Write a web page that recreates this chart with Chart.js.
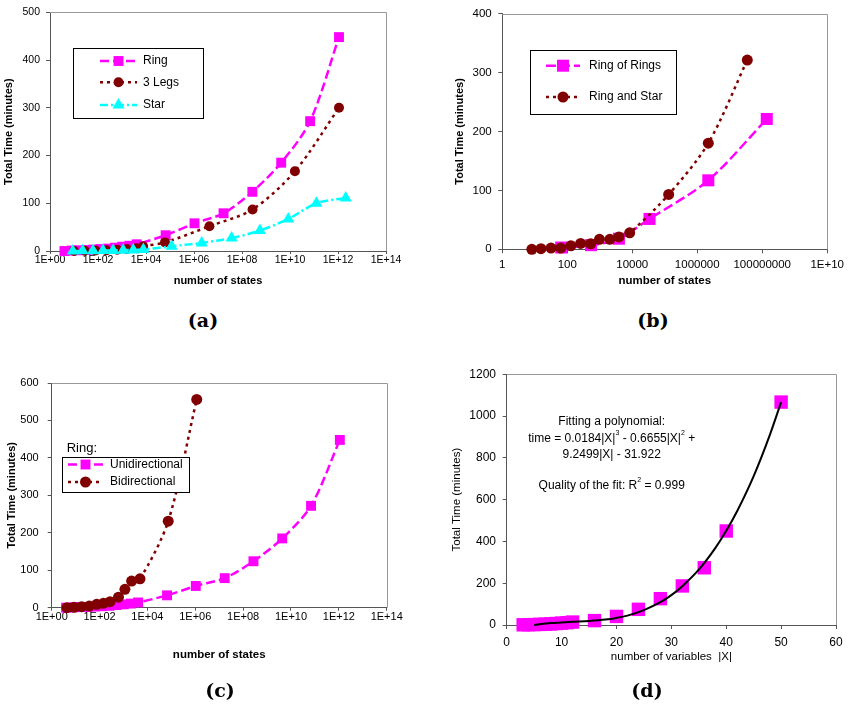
<!DOCTYPE html>
<html>
<head>
<meta charset="utf-8">
<script src="https://cdn.jsdelivr.net/npm/chart.js"></script>
<style>
body { margin: 0; background: #fff; }
#wrap { position: relative; width: 849px; height: 705px; overflow: hidden; }
canvas { position: absolute; }
.cap { position: absolute; font: bold 19px "DejaVu Serif", serif; transform: translate(-50%, -50%); color: #000; }
</style>
</head>
<body>
<div id="wrap">
  <canvas id="chartA" width="420" height="300" style="left:0;top:0"></canvas>
  <canvas id="chartB" width="429" height="300" style="left:420px;top:0"></canvas>
  <canvas id="chartC" width="420" height="340" style="left:0;top:340px"></canvas>
  <canvas id="chartD" width="429" height="340" style="left:420px;top:340px"></canvas>
  <div class="cap" style="left:203px;top:320px">(a)</div>
  <div class="cap" style="left:653px;top:320px">(b)</div>
  <div class="cap" style="left:220px;top:690px">(c)</div>
  <div class="cap" style="left:647px;top:690px">(d)</div>
</div>
<script>
// (a) and (c): ring / 3 legs / star
const ringStates = [4, 8, 16, 32, 64, 128, 256, 512, 1024, 2048, 4096, 6.6e4, 1.05e6, 1.7e7, 2.7e8, 4.3e9, 6.9e10, 1.1e12]
const ringTime   = [0, 1, 1.5, 2, 3, 4, 5, 7, 9, 11, 14, 33, 58, 79, 124, 185, 272, 448]
const legsStates = [10, 28, 79, 224, 631, 1585, 3981, 7600, 6.2e4, 4.4e6, 2.75e8, 1.6e10, 1.1e12]
const legsTime   = [0, 0.5, 1, 1.5, 2.5, 4, 6, 10, 18, 52, 87, 167, 300]
const starStates = [8.9, 23, 62, 162, 427, 1122, 2951, 7762, 1.17e5, 2.1e6, 3.7e7, 5.6e8, 8.5e9, 1.26e11, 2.1e12]
const starTime   = [0, 0.3, 0.6, 1, 1.3, 1.7, 2.2, 3, 10, 17, 27, 43, 67, 100, 111]

// (b): ring of rings / ring and star
const rorStates = [65, 537, 3890, 3.4e4, 2.19e6, 1.38e8]
const rorTime   = [3, 7, 18, 51.5, 117, 221]
const rasStates = [8.1, 15.5, 31.6, 63, 129, 257, 525, 977, 2042, 3890, 8318, 1.32e5, 2.19e6, 3.47e7]
const rasTime   = [0, 1, 2, 2.2, 6, 10, 9.4, 17, 17, 21, 28, 93, 180, 321]

// (c): bidirectional ring (unidirectional reuses ring data)
const biStates = [4.3, 8.5, 17.8, 37, 76, 145, 275, 617, 1148, 2188, 4898, 7.4e4, 1.15e6]
const biTime   = [0, 1, 2.7, 4.5, 9, 11.6, 16, 28, 49, 71, 77, 231, 556]

// (d): time vs number of variables, plus the fitted curve
const varCount = [3, 4, 5, 6, 7, 8, 9, 10, 11, 12, 16, 20, 24, 28, 32, 36, 40, 50]
const varTime  = [1, 1.5, 2, 3, 4, 5, 7, 9, 11, 14, 21, 41, 75, 126, 187, 274, 450, 1067]
const fitX     = [5, 8, 10, 12, 15, 18, 20, 22, 25, 28, 30, 32, 35, 38, 40, 42, 45, 48, 50]
const fitTime  = [0, 9, 12, 15, 19, 26, 34, 45, 71, 109, 143, 186, 265, 368, 451, 546, 713, 914, 1067]

const ticksE14 = [1e0, 1e2, 1e4, 1e6, 1e8, 1e10, 1e12, 1e14]
const ticksE10 = [1e0, 1e2, 1e4, 1e6, 1e8, 1e10]

const FONT = '"Liberation Sans", Arial, sans-serif'
Chart.defaults.font.family = FONT
Chart.defaults.color = '#000'

const MAGENTA = '#FF00FF', DARKRED = '#800000', CYAN = '#00FFFF'

const pts = (xs, ys) => xs.map((x, i) => ({x: x, y: ys[i]}))

function series(label, xs, ys, color, style, r, dash, order) {
  return {
    label: label, data: pts(xs, ys), showLine: true, clip: false, order: order,
    borderColor: color, backgroundColor: color, borderWidth: 2.5, borderDash: dash,
    pointStyle: style, pointRadius: r, pointBackgroundColor: color, pointBorderWidth: 0,
    tension: 0.3
  }
}

function expLabel(v) {
  const e = Math.round(Math.log10(v))
  return '1E+' + String(e).padStart(2, '0')
}
function plainLabel(v) {
  const e = Math.round(Math.log10(v))
  return e >= 10 ? '1E+' + e : String(Math.round(v))
}

// top and right border of the plot area
const frame = {
  id: 'frame',
  beforeDatasetsDraw(chart) {
    const a = chart.chartArea, ctx = chart.ctx
    ctx.save()
    ctx.strokeStyle = '#999'
    ctx.lineWidth = 1
    ctx.beginPath()
    ctx.moveTo(a.left, Math.round(a.top) + 0.5)
    ctx.lineTo(Math.round(a.right) + 0.5, Math.round(a.top) + 0.5)
    ctx.lineTo(Math.round(a.right) + 0.5, a.bottom)
    ctx.stroke()
    ctx.restore()
  }
}

function marker(ctx, style, x, y, r, color) {
  ctx.fillStyle = color
  ctx.beginPath()
  if (style === 'rect') {
    const s = r * Math.SQRT1_2
    ctx.rect(x - s, y - s, 2 * s, 2 * s)
  } else if (style === 'triangle') {
    ctx.moveTo(x, y - r)
    ctx.lineTo(x + r * 0.866, y + r / 2)
    ctx.lineTo(x - r * 0.866, y + r / 2)
    ctx.closePath()
  } else {
    ctx.arc(x, y, r, 0, Math.PI * 2)
  }
  ctx.fill()
}

function boxLegend(o) {
  return {
    id: 'boxLegend',
    afterDraw(chart) {
      const ctx = chart.ctx
      ctx.save()
      ctx.fillStyle = '#fff'
      ctx.fillRect(Math.round(o.x) + 0.5, Math.round(o.y) + 0.5, o.w, o.h)
      ctx.strokeStyle = '#000'
      ctx.lineWidth = 1
      ctx.strokeRect(Math.round(o.x) + 0.5, Math.round(o.y) + 0.5, o.w, o.h)
      ctx.textBaseline = 'middle'
      ctx.textAlign = 'left'
      if (o.title) {
        ctx.fillStyle = '#000'
        ctx.font = '13px ' + FONT
        ctx.fillText(o.title, o.titleX, o.titleY)
      }
      o.rows.forEach((y, i) => {
        const ds = chart.data.datasets[i]
        ctx.strokeStyle = ds.borderColor
        ctx.lineWidth = ds.borderWidth
        ctx.setLineDash(ds.borderDash || [])
        ctx.beginPath()
        ctx.moveTo(o.x1, y)
        ctx.lineTo(o.x2, y)
        ctx.stroke()
        ctx.setLineDash([])
        marker(ctx, ds.pointStyle, (o.x1 + o.x2) / 2, y, ds.pointRadius, ds.borderColor)
        ctx.fillStyle = '#000'
        ctx.font = '12px ' + FONT
        ctx.fillText(ds.label, o.tx, y)
      })
      ctx.restore()
    }
  }
}

function makeChart(id, p) {
  return new Chart(document.getElementById(id), {
    type: 'scatter',
    data: {datasets: p.datasets},
    options: {
      responsive: false, animation: false, events: [], devicePixelRatio: 1,
      layout: {padding: p.pad},
      plugins: {legend: {display: false}, tooltip: {enabled: false}},
      scales: {
        x: {
          type: p.xType, min: p.xMin, max: p.xMax,
          afterFit: s => { s.height = p.xH },
          afterBuildTicks: p.xTicks ? s => { s.ticks = p.xTicks.map(v => ({value: v})) } : undefined,
          ticks: {font: {size: p.tick}, padding: p.xPad, stepSize: p.xStep, callback: p.xFmt || (v => String(v)), maxRotation: 0, autoSkip: false},
          grid: {drawOnChartArea: false, tickLength: p.xTl, color: '#555'},
          border: {color: '#555'},
          title: {display: true, text: p.xTitle, font: {size: p.xTitleSize, weight: p.bold ? 'bold' : 'normal'}, padding: {top: 0, bottom: p.xTitlePad}}
        },
        y: {
          min: 0, max: p.yMax,
          afterFit: s => { s.width = p.yW },
          ticks: {font: {size: p.tick}, padding: p.yPad, stepSize: p.yStep, callback: v => String(v)},
          grid: {drawOnChartArea: false, tickLength: 4, color: '#555'},
          border: {color: '#555'},
          title: {display: true, text: 'Total Time (minutes)', font: {size: p.yTitleSize, weight: p.bold ? 'bold' : 'normal'}, padding: {top: p.yTitlePad, bottom: 0}}
        }
      }
    },
    plugins: [frame].concat(p.extra || [])
  })
}

// (a)
makeChart('chartA', {
  datasets: [
    series('Ring', ringStates, ringTime, MAGENTA, 'rect', 7, [9, 4], 3),
    series('3 Legs', legsStates, legsTime, DARKRED, 'circle', 5, [3, 4], 2),
    series('Star', starStates, starTime, CYAN, 'triangle', 7, [8, 3, 2, 3], 1)
  ],
  pad: {left: 0, top: 6, right: 34, bottom: 0},
  xType: 'logarithmic', xMin: 1, xMax: 1e14, xTicks: ticksE14, xFmt: expLabel,
  xH: 49, xTl: 3, xPad: 0, xTitle: 'number of states', xTitleSize: 11, xTitlePad: 12,
  yMax: 500, yStep: 100, yW: 50, yPad: 6, yTitleSize: 11, yTitlePad: 2,
  tick: 10.5, bold: true,
  extra: [boxLegend({x: 73, y: 48, w: 130, h: 70, rows: [61, 82.3, 105], x1: 100, x2: 137, tx: 143})]
})

// (b)
makeChart('chartB', {
  datasets: [
    series('Ring of Rings', rorStates, rorTime, MAGENTA, 'rect', 8.5, [10, 4], 2),
    series('Ring and Star', rasStates, rasTime, DARKRED, 'circle', 5.5, [3, 4], 1)
  ],
  pad: {left: 27, top: 8.3, right: 19, bottom: 0},
  xType: 'logarithmic', xMin: 1, xMax: 1e10, xTicks: ticksE10, xFmt: plainLabel,
  xH: 50.7, xTl: 4, xPad: 5, xTitle: 'number of states', xTitleSize: 11.5, xTitlePad: 12,
  yMax: 400, yStep: 100, yW: 55.3, yPad: 6.6, yTitleSize: 11, yTitlePad: 6.7,
  tick: 11.5, bold: true,
  extra: [boxLegend({x: 110, y: 50, w: 146, h: 64, rows: [65.7, 97], x1: 126, x2: 160, tx: 169})]
})

// (c)
makeChart('chartC', {
  datasets: [
    series('Unidirectional', ringStates, ringTime, MAGENTA, 'rect', 7, [9, 4], 2),
    series('Bidirectional', biStates, biTime, DARKRED, 'circle', 5.5, [3, 4], 1)
  ],
  pad: {left: 0, top: 43, right: 33.3, bottom: 0},
  xType: 'logarithmic', xMin: 1, xMax: 1e14, xTicks: ticksE14, xFmt: expLabel,
  xH: 72.3, xTl: 3, xPad: 0, xTitle: 'number of states', xTitleSize: 11.5, xTitlePad: 18.7,
  yMax: 600, yStep: 100, yW: 51.7, yPad: 9, yTitleSize: 11, yTitlePad: 5.4,
  tick: 11, bold: true,
  extra: [boxLegend({x: 61.7, y: 116.7, w: 127, h: 35, rows: [124.5, 142], x1: 68, x2: 103, tx: 110,
                     title: 'Ring:', titleX: 66.7, titleY: 108})]
})

// (d) annotation with superscripts
function richLine(ctx, segs, cx, y, size) {
  const big = size + 'px ' + FONT, small = Math.round(size * 0.6) + 'px ' + FONT
  let w = 0
  segs.forEach(s => { ctx.font = s.sup ? small : big; w += ctx.measureText(s.t).width })
  let x = cx - w / 2
  segs.forEach(s => {
    ctx.font = s.sup ? small : big
    ctx.fillText(s.t, x, s.sup ? y - size * 0.45 : y)
    x += ctx.measureText(s.t).width
  })
}
const fitNote = {
  id: 'fitNote',
  afterDraw(chart) {
    const ctx = chart.ctx
    ctx.save()
    ctx.fillStyle = '#000'
    ctx.textBaseline = 'middle'
    ctx.textAlign = 'left'
    const cx = 191.7
    richLine(ctx, [{t: 'Fitting a polynomial:'}], cx, 81.7, 12)
    richLine(ctx, [{t: 'time = 0.0184|X|'}, {t: '3', sup: true}, {t: ' - 0.6655|X|'}, {t: '2', sup: true}, {t: ' +'}], cx, 98.7, 12)
    richLine(ctx, [{t: '9.2499|X| - 31.922'}], cx, 114.3, 12)
    richLine(ctx, [{t: 'Quality of the fit: R'}, {t: '2', sup: true}, {t: ' = 0.999'}], cx, 145.7, 12)
    ctx.restore()
  }
}

makeChart('chartD', {
  datasets: [
    {label: 'fit', data: pts(fitX, fitTime), showLine: true, clip: false, order: 1,
     borderColor: '#000', borderWidth: 2, pointRadius: 0, cubicInterpolationMode: 'monotone'},
    {label: 'time', data: pts(varCount, varTime), showLine: false, clip: false, order: 2,
     pointStyle: 'rect', pointRadius: 9.5, pointBackgroundColor: MAGENTA, pointBorderWidth: 0}
  ],
  pad: {left: 0, top: 34.3, right: 13, bottom: 0},
  xType: 'linear', xMin: 0, xMax: 60, xStep: 10,
  xH: 55, xTl: 4, xPad: 6, xTitle: 'number of variables  |X|', xTitleSize: 11.5, xTitlePad: 16.7,
  yMax: 1200, yStep: 200, yW: 86.7, yPad: 6.7, yTitleSize: 11.5, yTitlePad: 29.7,
  tick: 12, bold: false,
  extra: [fitNote]
})
</script>
</body>
</html>
